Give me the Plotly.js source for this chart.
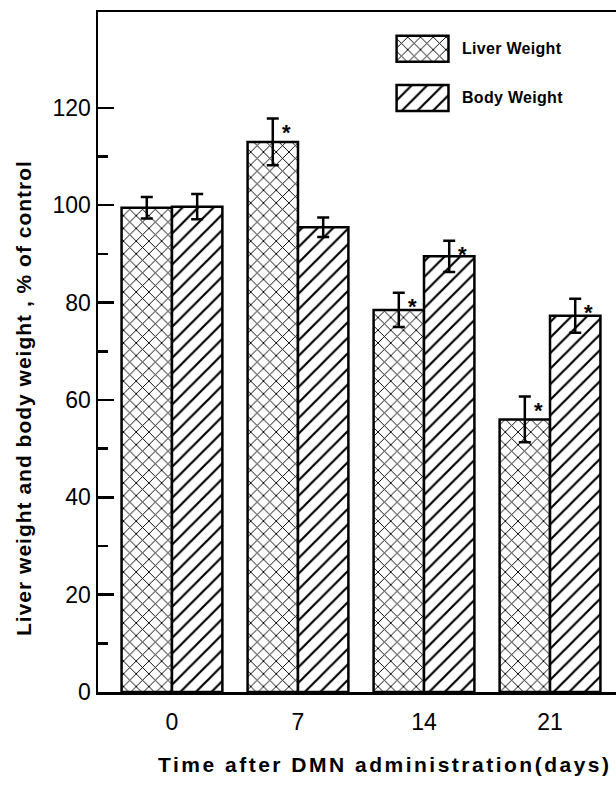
<!DOCTYPE html>
<html><head><meta charset="utf-8">
<script src="https://cdn.plot.ly/plotly-3.0.1.min.js"></script>
<style>html,body{margin:0;padding:0;overflow:hidden;background:#fff}</style>
</head><body><div id="chart"></div>
<script>
const days = ['0', '7', '14', '21'];
const liverWeight = [99.5, 113, 78.5, 56];
const liverErr = [2.2, 4.8, 3.5, 4.7];
const liverSig = [false, true, true, true];
const bodyWeight = [99.7, 95.5, 89.5, 77.3];
const bodyErr = [2.6, 2.0, 3.2, 3.5];
const bodySig = [false, false, true, true];
const yTicks = [0, 20, 40, 60, 80, 100, 120];
const yMinor = [10, 30, 50, 70, 90, 110];
const seriesNames = ['Liver Weight', 'Body Weight'];

const liverPattern = {shape: 'x', fgcolor: '#000', bgcolor: '#fff', size: 9, solidity: 0.2};
const bodyPattern = {shape: '/', fgcolor: '#000', bgcolor: '#fff', size: 11, solidity: 0.2};
const outline = {color: '#000', width: 2.5};
const errStyle = {type: 'data', visible: true, color: '#000', thickness: 2.5, width: 6};

const idx = days.map((d, i) => i);
const traces = [
  {type: 'bar', name: seriesNames[0], x: idx, y: liverWeight,
   error_y: Object.assign({array: liverErr}, errStyle),
   marker: {color: '#fff', line: outline, pattern: liverPattern}},
  {type: 'bar', name: seriesNames[1], x: idx, y: bodyWeight,
   error_y: Object.assign({array: bodyErr}, errStyle),
   marker: {color: '#fff', line: outline, pattern: bodyPattern}},
  // legend swatches drawn in an inset axis
  {type: 'bar', orientation: 'h', x: [1], y: [seriesNames[0]], xaxis: 'x2', yaxis: 'y2', width: 0.53,
   marker: {color: '#fff', line: outline, pattern: liverPattern}, hoverinfo: 'skip'},
  {type: 'bar', orientation: 'h', x: [1], y: [seriesNames[1]], xaxis: 'x2', yaxis: 'y2', width: 0.53,
   marker: {color: '#fff', line: outline, pattern: bodyPattern}, hoverinfo: 'skip'}
];

const starFont = {size: 22, color: 'black', family: 'Liberation Sans', weight: 'bold'};
const ann = [];
idx.forEach(i => {
  if (liverSig[i]) ann.push({x: i - 0.2 + 0.055, y: liverWeight[i] + liverErr[i], xref: 'x', yref: 'y',
    text: '*', showarrow: false, xanchor: 'left', yanchor: 'top', yshift: 1, font: starFont});
  if (bodySig[i]) ann.push({x: i + 0.2 + 0.055, y: bodyWeight[i] + bodyErr[i], xref: 'x', yref: 'y',
    text: '*', showarrow: false, xanchor: 'left', yanchor: 'top', yshift: 1, font: starFont});
});
const legFont = {family: 'Liberation Sans', size: 16, color: 'black', weight: 'bold'};
ann.push({xref: 'paper', yref: 'paper', x: 0.687, y: 0.9456, xanchor: 'left', yanchor: 'middle',
  text: '<span style="letter-spacing:0.3px">' + seriesNames[0] + '</span>', showarrow: false, font: legFont});
ann.push({xref: 'paper', yref: 'paper', x: 0.687, y: 0.875, xanchor: 'left', yanchor: 'middle',
  text: '<span style="letter-spacing:0.3px">' + seriesNames[1] + '</span>', showarrow: false, font: legFont});
const titleFont = {family: 'Liberation Sans', size: 21, color: 'black', weight: 'bold'};
ann.push({xref: 'paper', yref: 'paper', x: 0.5446, y: -0.107, xanchor: 'center', yanchor: 'middle',
  text: '<span style="letter-spacing:2.5px">Time after DMN administration(days)</span>', showarrow: false, font: titleFont});
ann.push({xref: 'paper', yref: 'paper', x: -0.1404, y: 0.4324, xanchor: 'center', yanchor: 'middle', textangle: -90,
  text: '<span style="letter-spacing:1px">Liver weight and body weight , % of control</span>', showarrow: false, font: titleFont});

const layout = {
  width: 625, height: 787,
  margin: {l: 98, r: 0, t: 12, b: 95},
  paper_bgcolor: '#fff', plot_bgcolor: '#fff',
  barmode: 'group', bargap: 0.2, bargroupgap: 0,
  showlegend: false,
  font: {family: 'Liberation Sans', color: '#000'},
  xaxis: {range: [-0.587, 3.595], tickmode: 'array', tickvals: idx, ticktext: days,
          showline: true, linecolor: '#000', linewidth: 2.5, mirror: true,
          ticks: '', showgrid: false, zeroline: false, ticklabelstandoff: 8,
          tickfont: {size: 23, family: 'Liberation Sans'}},
  yaxis: {range: [0, 139.7], tickmode: 'array', tickvals: yTicks,
          showline: true, linecolor: '#000', linewidth: 2.5, mirror: true,
          ticks: 'inside', ticklen: 16, tickwidth: 2.5, tickcolor: '#000',
          minor: {tickmode: 'array', tickvals: yMinor, ticks: 'inside', ticklen: 10, tickwidth: 2.5, tickcolor: '#000'},
          showgrid: false, zeroline: false,
          tickfont: {size: 23, family: 'Liberation Sans'}},
  xaxis2: {domain: [0.5636, 0.668], anchor: 'y2', range: [-0.03, 1.03], visible: false, fixedrange: true},
  yaxis2: {domain: [0.8375, 0.982], anchor: 'x2', visible: false, fixedrange: true, type: 'category',
           categoryorder: 'array', categoryarray: [seriesNames[1], seriesNames[0]]},
  annotations: ann
};
Plotly.newPlot('chart', traces, layout, {displayModeBar: false, staticPlot: true});
</script></body></html>
